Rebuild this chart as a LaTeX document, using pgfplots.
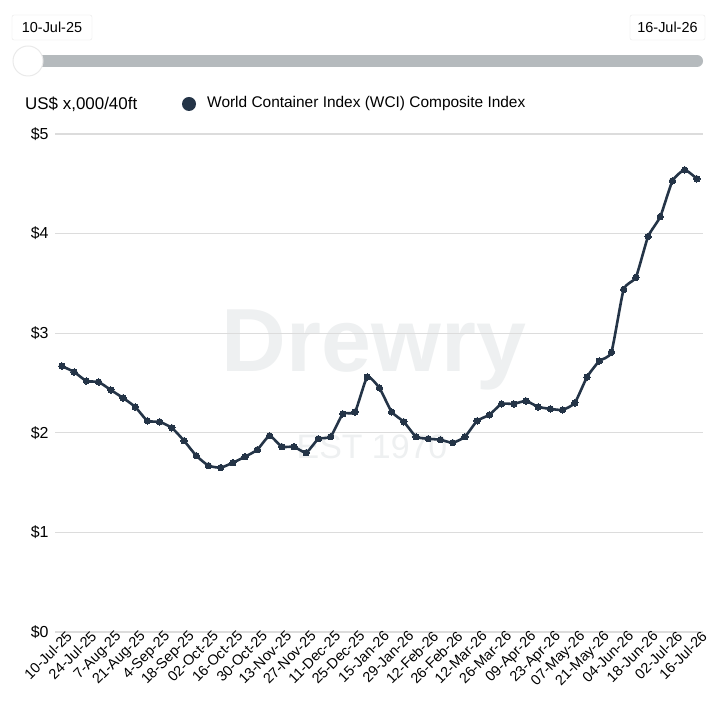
\documentclass[border=0pt]{standalone}
\usepackage{pgfplots}
\pgfplotsset{compat=1.18}
\usepackage{fontspec}
\setmainfont{Liberation Sans}
\definecolor{navy}{HTML}{243447}
\definecolor{gridc}{HTML}{DCDCDC}
\definecolor{track}{HTML}{B5BABD}
\definecolor{wm}{HTML}{EEF0F1}
\pgfplotstableread{
x y
0 2.67
1 2.61
2 2.52
3 2.51
4 2.43
5 2.35
6 2.26
7 2.12
8 2.11
9 2.05
10 1.92
11 1.77
12 1.67
13 1.65
14 1.70
15 1.76
16 1.83
17 1.97
18 1.86
19 1.86
20 1.80
21 1.94
22 1.96
23 2.19
24 2.21
25 2.56
26 2.45
27 2.21
28 2.11
29 1.96
30 1.94
31 1.93
32 1.90
33 1.96
34 2.12
35 2.18
36 2.29
37 2.29
38 2.32
39 2.26
40 2.24
41 2.23
42 2.30
43 2.56
44 2.72
45 2.81
46 3.44
47 3.56
48 3.97
49 4.17
50 4.53
51 4.64
52 4.55
}\wci
\begin{document}
\begin{tikzpicture}[x=1bp,y=1bp]
\path[use as bounding box, fill=white] (0,0) rectangle (726,715);
% watermark
\node[text=wm, font=\fontsize{90}{90}\selectfont\bfseries] at (374,365) {Drewry};
\node[text=wm, font=\fontsize{34}{34}\selectfont] at (372,268) {EST 1970};
% range slider
\draw[gridc!70, fill=white, rounded corners=2bp] (12,675) rectangle (92,700);
\node[font=\fontsize{14.5}{16}\selectfont] at (52,687.5) {10-Jul-25};
\draw[gridc!70, fill=white, rounded corners=2bp] (630,675) rectangle (705,700);
\node[font=\fontsize{14.5}{16}\selectfont] at (667.5,687.5) {16-Jul-26};
\draw[line width=12bp, track, line cap=round] (21,654) -- (697,654);
\filldraw[fill=white, draw=gridc!60, line width=1bp] (28,654) circle (15);
% header
\node[anchor=west, inner sep=0pt, font=\fontsize{17}{19}\selectfont] at (25,611) {US\$ x,000/40ft};
\fill[navy] (189,611) circle (7);
\node[anchor=west, inner sep=0pt, font=\fontsize{15.5}{17}\selectfont] at (207,611) {World Container Index (WCI) Composite Index};
\begin{axis}[
  at={(55bp,83bp)}, anchor=south west,
  width=648bp, height=498bp, scale only axis,
  xmin=-0.57, xmax=52.5, ymin=0, ymax=5,
  axis line style={draw=none}, tick style={draw=none},
  ymajorgrids, grid style={gridc, line width=1.2bp},
  /pgf/number format/assume math mode=true,
  ytick={0,1,2,3,4,5},
  yticklabels={\$0,\$1,\$2,\$3,\$4,\$5},
  yticklabel style={font=\fontsize{16}{16}\selectfont, xshift=-3bp},
  xtick={0,2,...,52},
  xticklabels={10-Jul-25,24-Jul-25,7-Aug-25,21-Aug-25,4-Sep-25,18-Sep-25,02-Oct-25,16-Oct-25,30-Oct-25,13-Nov-25,27-Nov-25,11-Dec-25,25-Dec-25,15-Jan-26,29-Jan-26,12-Feb-26,26-Feb-26,12-Mar-26,26-Mar-26,09-Apr-26,23-Apr-26,07-May-26,21-May-26,04-Jun-26,18-Jun-26,02-Jul-26,16-Jul-26},
  xticklabel style={rotate=45, anchor=north east, font=\fontsize{14.5}{14.5}\selectfont, inner sep=1bp, xshift=5bp},
  clip=false,
]
\addplot[navy, line width=2.6bp, line join=round, smooth, tension=0.3,
  mark=*, mark size=3.2bp, mark options={fill=navy, draw=navy, line width=0pt}] table[x=x,y=y] {\wci};
\end{axis}
\end{tikzpicture}
\end{document}
